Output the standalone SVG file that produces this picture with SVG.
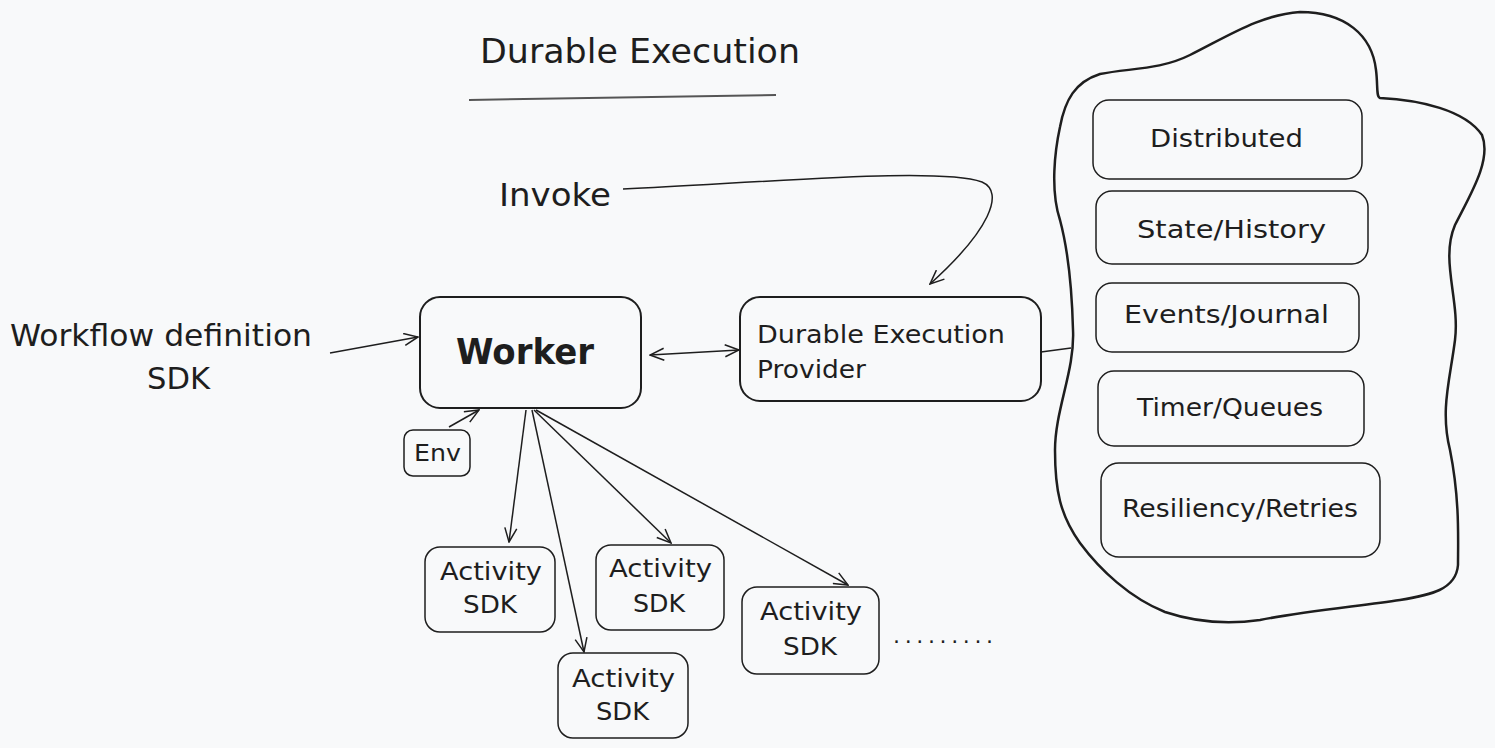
<svg xmlns="http://www.w3.org/2000/svg" width="1495" height="748" viewBox="0 0 1495 748">
<defs>
<style>
text{font-family:"DejaVu Sans","Liberation Sans",sans-serif;fill:#1e1e1e;}
.box{fill:none;stroke:#1e1e1e;stroke-width:2;}
.ibox{fill:none;stroke:#1e1e1e;stroke-width:1.5;}
.edge{fill:none;stroke:#1e1e1e;stroke-width:1.5;}
.t24{font-size:24px;}
.t25{font-size:25px;}
</style>
<marker id="ah" markerWidth="16" markerHeight="14" refX="15" refY="7" orient="auto" markerUnits="userSpaceOnUse">
<path d="M1,1 L15,7 L1,13" fill="none" stroke="#1e1e1e" stroke-width="1.5"/>
</marker>
<marker id="ahs" markerWidth="16" markerHeight="14" refX="1" refY="7" orient="auto" markerUnits="userSpaceOnUse">
<path d="M15,1 L1,7 L15,13" fill="none" stroke="#1e1e1e" stroke-width="1.5"/>
</marker>
</defs>
<rect width="1495" height="748" fill="#f8f9fa"/>

<g id="title">
<text x="480" y="63" font-size="34" textLength="320" lengthAdjust="spacingAndGlyphs">Durable Execution</text>
<path d="M469,100 L776,95" stroke="#555" stroke-width="2" fill="none"/>
</g>

<g id="invoke-label"><text x="499" y="206" font-size="32" textLength="112" lengthAdjust="spacingAndGlyphs">Invoke</text></g>

<g id="workflow-label">
<text x="10" y="346" font-size="31" textLength="302" lengthAdjust="spacingAndGlyphs">Workflow definition</text>
<text x="147" y="389" font-size="31" textLength="63" lengthAdjust="spacingAndGlyphs">SDK</text>
</g>

<g id="worker">
<rect class="box" x="420" y="297" width="221" height="111" rx="20"/>
<text x="456" y="364" font-size="36" font-weight="bold" textLength="138" lengthAdjust="spacingAndGlyphs">Worker</text>
</g>

<g id="provider">
<rect class="box" x="740" y="297" width="301" height="104" rx="20"/>
<text x="757" y="343" class="t24" textLength="248" lengthAdjust="spacingAndGlyphs">Durable Execution</text>
<text x="757" y="378" class="t24" textLength="109" lengthAdjust="spacingAndGlyphs">Provider</text>
</g>

<g id="env">
<rect class="ibox" x="404" y="430" width="66" height="46" rx="9"/>
<text x="414" y="461" font-size="23" textLength="47" lengthAdjust="spacingAndGlyphs">Env</text>
</g>

<g id="activity1">
<rect class="ibox" x="425" y="547" width="130" height="85" rx="15"/>
<text x="440" y="580" class="t25" textLength="102" lengthAdjust="spacingAndGlyphs">Activity</text>
<text x="463" y="613" class="t25" textLength="54" lengthAdjust="spacingAndGlyphs">SDK</text>
</g>
<g id="activity2">
<rect class="ibox" x="558" y="653" width="130" height="85" rx="15"/>
<text x="572" y="687" class="t25" textLength="103" lengthAdjust="spacingAndGlyphs">Activity</text>
<text x="596" y="720" class="t25" textLength="53" lengthAdjust="spacingAndGlyphs">SDK</text>
</g>
<g id="activity3">
<rect class="ibox" x="596" y="545" width="128" height="85" rx="15"/>
<text x="609" y="577" class="t25" textLength="103" lengthAdjust="spacingAndGlyphs">Activity</text>
<text x="633" y="612" class="t25" textLength="52" lengthAdjust="spacingAndGlyphs">SDK</text>
</g>
<g id="activity4">
<rect class="ibox" x="742" y="587" width="137" height="87" rx="15"/>
<text x="760" y="620" class="t25" textLength="102" lengthAdjust="spacingAndGlyphs">Activity</text>
<text x="783" y="655" class="t25" textLength="54" lengthAdjust="spacingAndGlyphs">SDK</text>
</g>
<g id="more"><text x="893" y="643" font-size="22" textLength="100" lengthAdjust="spacing">.........</text></g>

<g id="platform">
<path d="M1060,127 C1065,100 1075,82 1100,74 C1130,68 1160,70 1190,55 C1230,35 1260,15 1300,12 C1345,12 1372,35 1376,70 C1378,85 1376,97 1380,98 C1420,100 1465,110 1482,135 C1492,160 1470,195 1455,225 C1440,260 1460,300 1455,340 C1450,380 1440,410 1450,450 C1460,500 1458,540 1458,565 C1456,590 1430,595 1400,600 C1360,606 1300,612 1260,620 C1225,625 1195,622 1165,612 C1130,598 1100,570 1080,543 C1060,515 1055,490 1055,450 C1055,410 1075,370 1073,330 C1072,290 1068,250 1060,220 C1050,190 1055,150 1060,127 Z" fill="none" stroke="#1e1e1e" stroke-width="2.5"/>
</g>
<g id="distributed">
<rect class="ibox" x="1093" y="100" width="269" height="79" rx="16"/>
<text x="1150" y="147" class="t24" textLength="153" lengthAdjust="spacingAndGlyphs">Distributed</text>
</g>
<g id="state">
<rect class="ibox" x="1096" y="191" width="272" height="73" rx="16"/>
<text x="1137" y="238" class="t24" textLength="189" lengthAdjust="spacingAndGlyphs">State/History</text>
</g>
<g id="events">
<rect class="ibox" x="1096" y="283" width="263" height="69" rx="16"/>
<text x="1124" y="323" class="t24" textLength="205" lengthAdjust="spacingAndGlyphs">Events/Journal</text>
</g>
<g id="timer">
<rect class="ibox" x="1098" y="371" width="266" height="75" rx="16"/>
<text x="1137" y="416" class="t24" textLength="186" lengthAdjust="spacingAndGlyphs">Timer/Queues</text>
</g>
<g id="resiliency">
<rect class="ibox" x="1101" y="463" width="279" height="94" rx="18"/>
<text x="1122" y="517" class="t24" textLength="236" lengthAdjust="spacingAndGlyphs">Resiliency/Retries</text>
</g>

<g id="connectors">
<path class="edge" d="M623,189 C800,180 940,168 982,182 C1005,192 990,230 930,284" marker-end="url(#ah)"/>
<path class="edge" d="M330,353 L418,337" marker-end="url(#ah)"/>
<path class="edge" d="M650,355 L739,350" marker-start="url(#ahs)" marker-end="url(#ah)"/>
<path class="edge" d="M1041,352 L1071,348"/>
<path class="edge" d="M449,427 L479,410" marker-end="url(#ah)"/>
<path class="edge" d="M526,410 L509,542" marker-end="url(#ah)"/>
<path class="edge" d="M532,410 L584,652" marker-end="url(#ah)"/>
<path class="edge" d="M534,410 L671,543" marker-end="url(#ah)"/>
<path class="edge" d="M536,410 L848,585" marker-end="url(#ah)"/>
</g>
</svg>
